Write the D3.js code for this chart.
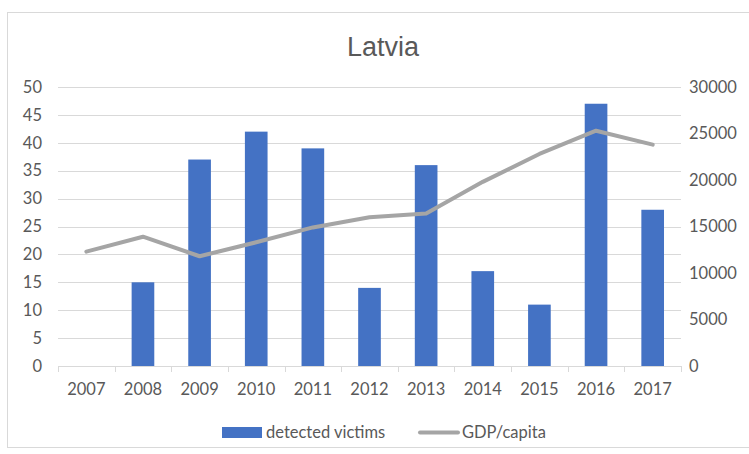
<!DOCTYPE html>
<html>
<head>
<meta charset="utf-8">
<script src="https://cdn.jsdelivr.net/npm/d3@7"></script>
<style>
  body { margin: 0; background: #fff; }
  svg { display: block; }
</style>
</head>
<body>
<svg></svg>
<script>
// data
const years = ["2007", "2008", "2009", "2010", "2011", "2012", "2013", "2014", "2015", "2016", "2017"];
const victims = [null, 15, 37, 42, 39, 14, 36, 17, 11, 47, 28];
const gdp = [12300, 13900, 11800, 13300, 14900, 16000, 16400, 19800, 22800, 25300, 23800];
const leftTicks = [0, 5, 10, 15, 20, 25, 30, 35, 40, 45, 50];
const rightTicks = [0, 5000, 10000, 15000, 20000, 25000, 30000];

const svgWidth = 749, svgHeight = 454;
const margin = { top: 87, right: 68, bottom: 88, left: 58 };
const width = svgWidth - margin.left - margin.right;
const height = svgHeight - margin.top - margin.bottom;

const svg = d3.select("svg")
    .attr("width", svgWidth)
    .attr("height", svgHeight);

// outer chart border
svg.append("rect")
    .attr("x", 7.5).attr("y", 12.5)
    .attr("width", 742).attr("height", 435)
    .attr("fill", "none")
    .attr("stroke", "#d9d9d9");

svg.append("text")
    .attr("x", 383).attr("y", 56)
    .attr("text-anchor", "middle")
    .attr("font-family", "Liberation Sans, Arial, sans-serif")
    .attr("font-size", 27)
    .attr("fill", "#595959")
    .text("Latvia");

const g = svg.append("g")
    .attr("transform", "translate(" + margin.left + "," + margin.top + ")");

const x = d3.scaleBand().domain(years).range([0, width]).padding(0);
const y = d3.scaleLinear().domain([0, 50]).range([height, 0]);
const y2 = d3.scaleLinear().domain([0, 30000]).range([height, 0]);

// gridlines
g.append("g")
    .selectAll("line")
    .data(leftTicks.slice(1))
    .join("line")
    .attr("x1", 0).attr("x2", width)
    .attr("y1", d => Math.round(y(d)) + 0.5)
    .attr("y2", d => Math.round(y(d)) + 0.5)
    .attr("stroke", "#d9d9d9")
    .attr("stroke-width", 1);

const font = "Lato, 'Open Sans', sans-serif";

// left axis
const yAxis = g.append("g")
    .call(d3.axisLeft(y).tickValues(leftTicks).tickSize(0).tickPadding(16));
yAxis.select(".domain").remove();
yAxis.selectAll("text")
    .attr("font-family", font).attr("font-size", 16.5).attr("fill", "#595959");

// right axis
const y2Axis = g.append("g")
    .attr("transform", "translate(" + width + ",0)")
    .call(d3.axisRight(y2).tickValues(rightTicks).tickFormat(d3.format("d")).tickSize(0).tickPadding(8));
y2Axis.select(".domain").remove();
y2Axis.selectAll("text")
    .attr("font-family", font).attr("font-size", 16.5).attr("fill", "#595959");

// bottom axis with ticks at category boundaries
const xAxis = g.append("g")
    .attr("transform", "translate(0," + height + ")");
xAxis.append("line")
    .attr("x1", 0).attr("x2", width)
    .attr("y1", 0.5).attr("y2", 0.5)
    .attr("stroke", "#d9d9d9");
xAxis.selectAll(".bound")
    .data(years.concat(["end"]))
    .join("line")
    .attr("class", "bound")
    .attr("x1", (d, i) => Math.round(i * x.step()) + 0.5)
    .attr("x2", (d, i) => Math.round(i * x.step()) + 0.5)
    .attr("y1", 0).attr("y2", 6)
    .attr("stroke", "#d9d9d9");
xAxis.selectAll(".lab")
    .data(years)
    .join("text")
    .attr("class", "lab")
    .attr("x", d => x(d) + x.bandwidth() / 2)
    .attr("y", 29)
    .attr("text-anchor", "middle")
    .attr("font-family", font).attr("font-size", 16.5).attr("fill", "#595959")
    .text(d => d);

// bars
const barW = x.bandwidth() * 0.4;
g.append("g")
    .selectAll("rect")
    .data(years.map((d, i) => ({ year: d, v: victims[i] })).filter(d => d.v != null))
    .join("rect")
    .attr("x", d => x(d.year) + (x.bandwidth() - barW) / 2)
    .attr("y", d => y(d.v))
    .attr("width", barW)
    .attr("height", d => height - y(d.v))
    .attr("fill", "#4472c4");

// GDP line
const line = d3.line()
    .x((d, i) => x(years[i]) + x.bandwidth() / 2)
    .y(d => y2(d));

g.append("path")
    .datum(gdp)
    .attr("fill", "none")
    .attr("stroke", "#a5a5a5")
    .attr("stroke-width", 4)
    .attr("stroke-linejoin", "round")
    .attr("stroke-linecap", "round")
    .attr("d", line);

// legend
const legend = svg.append("g").attr("transform", "translate(0,432)");
legend.append("rect")
    .attr("x", 222).attr("y", -5)
    .attr("width", 40).attr("height", 11)
    .attr("fill", "#4472c4");
legend.append("text")
    .attr("x", 266).attr("y", 6)
    .attr("font-family", font).attr("font-size", 16.5).attr("fill", "#595959")
    .text("detected victims");
legend.append("line")
    .attr("x1", 420).attr("x2", 458)
    .attr("y1", 0.5).attr("y2", 0.5)
    .attr("stroke", "#a5a5a5")
    .attr("stroke-width", 4)
    .attr("stroke-linecap", "round");
legend.append("text")
    .attr("x", 462).attr("y", 6)
    .attr("font-family", font).attr("font-size", 16.5).attr("fill", "#595959")
    .text("GDP/capita");
</script>
</body>
</html>
